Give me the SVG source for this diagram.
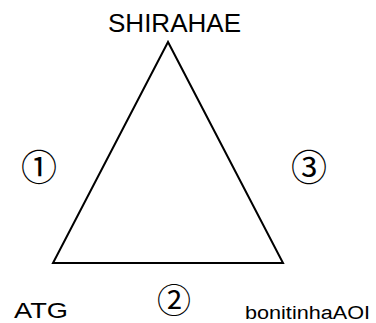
<svg xmlns="http://www.w3.org/2000/svg" width="376" height="323" viewBox="0 0 376 323">
<style>
.t{font-family:"Liberation Sans","Noto Sans CJK JP",sans-serif;fill:#000}
.c{font-family:"Noto Sans CJK JP","DejaVu Sans",sans-serif;fill:#000;text-anchor:middle;font-size:36px}
.e{fill:none;stroke:#000;stroke-width:2}
</style>
<rect width="376" height="323" fill="#fff"/>
<g id="connectors">
<path class="e" d="M168,42 L53,263 L283,263 Z" stroke-linejoin="miter"/>
</g>
<g id="shirahae"><text class="t" x="108" y="31.5" font-size="25" textLength="133" lengthAdjust="spacingAndGlyphs">SHIRAHAE</text></g>
<g id="atg"><text class="t" x="14" y="317.5" font-size="22" textLength="54" lengthAdjust="spacingAndGlyphs">ATG</text></g>
<g id="bonitinha"><text class="t" x="245" y="319" font-size="18" textLength="125" lengthAdjust="spacingAndGlyphs">bonitinhaAOI</text></g>
<g id="label1"><text class="c" x="39" y="180.5">①</text></g>
<g id="label2"><text class="c" x="174" y="313" style="font-size:34px">②</text></g>
<g id="label3"><text class="c" x="309" y="180.5">③</text></g>
</svg>
